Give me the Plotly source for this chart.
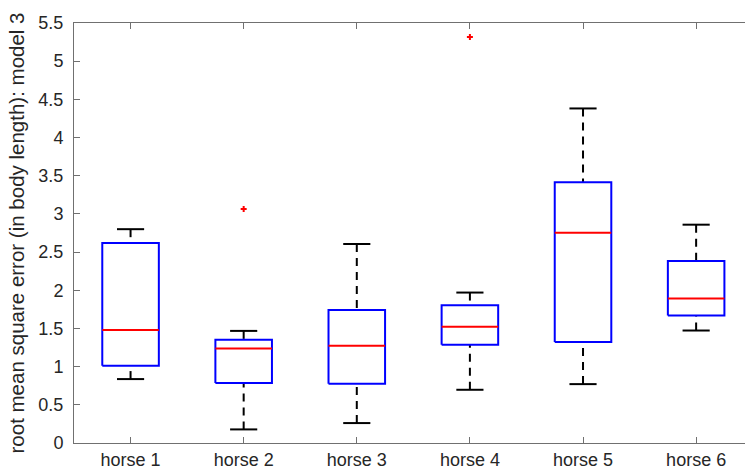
import plotly.graph_objects as go

categories = ["horse 1", "horse 2", "horse 3", "horse 4", "horse 5", "horse 6"]
q1 = [1.01, 0.785, 0.775, 1.285, 1.321, 1.669]
median = [1.48, 1.237, 1.272, 1.521, 2.754, 1.891]
q3 = [2.62, 1.351, 1.743, 1.804, 3.413, 2.384]
lower_whisker = [0.837, 0.178, 0.261, 0.697, 0.771, 1.473]
upper_whisker = [2.80, 1.468, 2.606, 1.97, 4.381, 2.859]
outlier_cat = ["horse 2", "horse 4"]
outlier_val = [3.064, 5.317]
y_ticks = [0, 0.5, 1, 1.5, 2, 2.5, 3, 3.5, 4, 4.5, 5, 5.5]

BOX_HALF = 0.25
CAP_HALF = 0.12
pos = {c: i + 1 for i, c in enumerate(categories)}

bx, by, mx, my, wx, wy, cx, cy = [], [], [], [], [], [], [], []
for c, a, m, b, lo, hi in zip(categories, q1, median, q3, lower_whisker, upper_whisker):
    p = pos[c]
    bx += [p - BOX_HALF, p + BOX_HALF, p + BOX_HALF, p - BOX_HALF, p - BOX_HALF, None]
    by += [a, a, b, b, a, None]
    mx += [p - BOX_HALF, p + BOX_HALF, None]
    my += [m, m, None]
    wx += [p, p, None, p, p, None]
    wy += [hi, b, None, lo, a, None]
    cx += [p - CAP_HALF, p + CAP_HALF, None, p - CAP_HALF, p + CAP_HALF, None]
    cy += [hi, hi, None, lo, lo, None]

fig = go.Figure()
fig.add_trace(go.Scatter(x=wx, y=wy, mode="lines",
                         line=dict(color="black", width=2, dash="8px,6px"),
                         hoverinfo="skip"))
fig.add_trace(go.Scatter(x=cx, y=cy, mode="lines",
                         line=dict(color="black", width=2), hoverinfo="skip"))
fig.add_trace(go.Scatter(x=bx, y=by, mode="lines",
                         line=dict(color="#0000ff", width=2), hoverinfo="skip"))
fig.add_trace(go.Scatter(x=mx, y=my, mode="lines",
                         line=dict(color="#ff0000", width=2), hoverinfo="skip"))
fig.add_trace(go.Scatter(x=[pos[c] for c in outlier_cat], y=outlier_val, mode="markers",
                         marker=dict(symbol="cross", size=5, color="#ff0000"),
                         hoverinfo="skip"))

font_family = "Liberation Sans, Arial, Helvetica, sans-serif"
axis_color = "#707070"

fig.update_layout(
    width=745, height=475,
    margin=dict(l=74, r=0, t=23, b=32),
    paper_bgcolor="white", plot_bgcolor="white",
    showlegend=False,
    font=dict(family=font_family, size=18, color="#262626"),
    xaxis=dict(
        range=[0.5, 6.432],
        tickvals=[pos[c] for c in categories],
        ticktext=categories,
        ticks="inside", ticklen=6, tickcolor=axis_color, tickwidth=1,
        showline=True, linecolor=axis_color, linewidth=1,
        mirror="ticks", showgrid=False, zeroline=False,
        tickfont=dict(size=18, color="#262626"),
    ),
    yaxis=dict(
        range=[0, 5.5],
        tickvals=y_ticks,
        ticks="inside", ticklen=6, tickcolor=axis_color, tickwidth=1,
        showline=True, linecolor=axis_color, linewidth=1,
        mirror=False, showgrid=False, zeroline=False,
        tickfont=dict(size=18, color="#262626"),
        ticklabelstandoff=6,
        title=dict(text="root mean square error (in body length): model 3",
                   font=dict(size=20.5, color="#262626"), standoff=8),
    ),
)

fig.write_html("out.html")
